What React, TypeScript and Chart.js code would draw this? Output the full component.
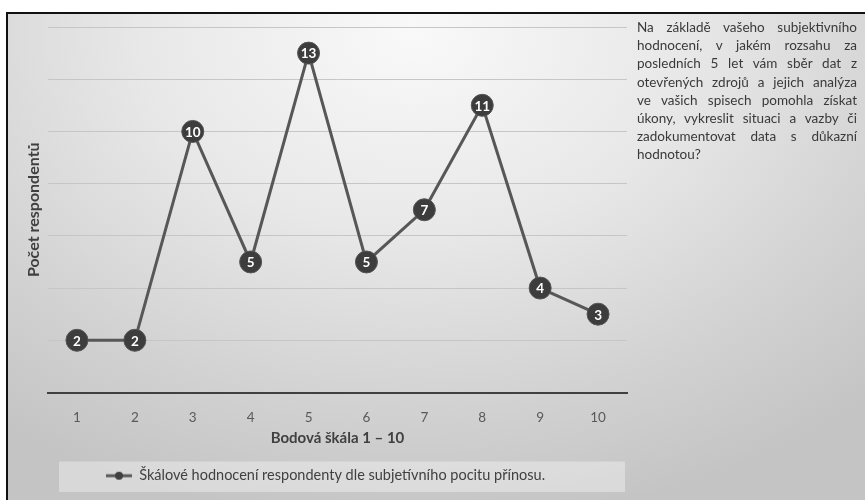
import React, { useEffect, useRef } from "react";
import { Chart, registerables } from "chart.js";

Chart.register(...registerables);

const categories = ["1", "2", "3", "4", "5", "6", "7", "8", "9", "10"];
const values = [2, 2, 10, 5, 13, 5, 7, 11, 4, 3];
const seriesLabel = "Škálové hodnocení respondenty dle subjetívního pocitu přínosu.";
const xTitle = "Bodová škála 1 – 10";
const yTitle = "Počet respondentů";
const yMin = 0;
const yMax = 14;
const yStep = 2;
const sideLines = [
  "Na základě vašeho subjektivního",
  "hodnocení, v jakém rozsahu za",
  "posledních 5 let vám sběr dat z",
  "otevřených zdrojů a jejich analýza",
  "ve vašich spisech pomohla získat",
  "úkony, vykreslit situaci a vazby či",
  "zadokumentovat data s důkazní",
  "hodnotou?",
];

const FONT = "Lato, 'Open Sans', sans-serif";

function makeLegendIcon(): HTMLCanvasElement {
  const c = document.createElement("canvas");
  c.width = 26;
  c.height = 10;
  const g = c.getContext("2d")!;
  g.strokeStyle = "#595959";
  g.lineWidth = 3;
  g.beginPath();
  g.moveTo(0, 5);
  g.lineTo(26, 5);
  g.stroke();
  g.fillStyle = "#404040";
  g.beginPath();
  g.arc(13, 5, 4, 0, Math.PI * 2);
  g.fill();
  return c;
}

const valueLabelPlugin = {
  id: "valueLabels",
  afterDatasetsDraw(chart: any) {
    const ctx = chart.ctx;
    chart.data.datasets.forEach((ds: any, i: number) => {
      const meta = chart.getDatasetMeta(i);
      meta.data.forEach((pt: any, j: number) => {
        ctx.save();
        ctx.fillStyle = "#ffffff";
        ctx.font = `bold 13.5px ${FONT}`;
        ctx.textAlign = "center";
        ctx.textBaseline = "middle";
        ctx.fillText(String(ds.data[j]), pt.x, pt.y + 1);
        ctx.restore();
      });
    });
  },
};

const legendBgPlugin = {
  id: "legendBg",
  beforeDraw(chart: any) {
    const lg = chart.legend;
    const ca = chart.chartArea;
    if (!lg || !ca) return;
    const ctx = chart.ctx;
    ctx.save();
    ctx.fillStyle = "rgba(255,255,255,0.35)";
    ctx.fillRect(ca.left + 11, lg.top + 1, ca.right - ca.left - 13, lg.bottom - lg.top - 2);
    ctx.restore();
  },
};

function LineChart() {
  const ref = useRef<HTMLCanvasElement>(null);
  useEffect(() => {
    if (!ref.current) return;
    const chart = new Chart(ref.current, {
      type: "line",
      data: {
        labels: categories,
        datasets: [
          {
            label: seriesLabel,
            data: values,
            borderColor: "#575757",
            borderWidth: 3,
            pointRadius: 11,
            pointHoverRadius: 11,
            pointBackgroundColor: "#3d3d3d",
            pointBorderColor: "#555555",
            pointBorderWidth: 1,
            tension: 0,
            clip: false as any,
          },
        ],
      },
      options: {
        responsive: false,
        animation: false,
        maintainAspectRatio: false,
        layout: { padding: { left: 24, right: 238, top: 27, bottom: 7 } },
        scales: {
          x: {
            offset: true,
            grid: { display: false, drawTicks: false },
            border: { display: true, color: "#404040", width: 2 },
            ticks: { color: "#595959", font: { family: FONT, size: 13.5 }, padding: 17 },
            title: {
              display: true,
              text: xTitle,
              color: "#404040",
              font: { family: FONT, size: 15, weight: "bold" },
              padding: { top: 0, bottom: 13 },
            },
            afterFit(scale: any) {
              scale.height = 68;
            },
          },
          y: {
            min: yMin,
            max: yMax,
            ticks: { stepSize: yStep, display: false },
            grid: {
              drawTicks: false,
              color: (c: any) => (c.tick && c.tick.value === 0 ? "rgba(0,0,0,0)" : "#c6c6c6"),
              lineWidth: 1,
            },
            border: { display: false },
            title: {
              display: true,
              text: yTitle,
              color: "#404040",
              font: { family: FONT, size: 16, weight: "bold" },
              padding: { top: 0, bottom: 0 },
            },
            afterFit(scale: any) {
              scale.width = 24;
            },
          },
        },
        plugins: {
          legend: {
            position: "bottom",
            labels: {
              usePointStyle: true,
              pointStyle: makeLegendIcon() as any,
              pointStyleWidth: 26,
              color: "#404040",
              font: { family: FONT, size: 14.5 },
              padding: 8,
            },
          },
          tooltip: { enabled: false },
        },
      },
      plugins: [legendBgPlugin, valueLabelPlugin],
    });
    return () => chart.destroy();
  }, []);
  return (
    <canvas
      ref={ref}
      width={865}
      height={500}
      style={{ position: "absolute", left: 0, top: 0, width: 865, height: 500 }}
    />
  );
}

export default function App() {
  return (
    <div
      style={{
        position: "fixed",
        left: 0,
        top: 0,
        width: 865,
        height: 500,
        background: "#ffffff",
        overflow: "hidden",
      }}
    >
      <div
        style={{
          position: "absolute",
          left: 6,
          top: 12,
          width: 900,
          height: 520,
          borderTop: "2px solid #111",
          borderLeft: "2px solid #111",
          background:
            "radial-gradient(ellipse 75% 95% at 45% 4%, #f9f9f9 0%, #e8e8e8 40%, #d2d2d2 75%, #c4c4c4 100%)",
        }}
      />
      <LineChart />
      <div
        style={{
          position: "absolute",
          left: 637,
          top: 18,
          width: 220,
          fontFamily: FONT,
          fontSize: 13.5,
          lineHeight: "18.2px",
          color: "#3a3a3a",
        }}
      >
        {sideLines.map((t, i) => (
          <div
            key={i}
            style={{
              textAlign: i === sideLines.length - 1 ? "left" : "justify",
              textAlignLast: i === sideLines.length - 1 ? "left" : "justify",
              whiteSpace: "nowrap",
            }}
          >
            {t}
          </div>
        ))}
      </div>
    </div>
  );
}
